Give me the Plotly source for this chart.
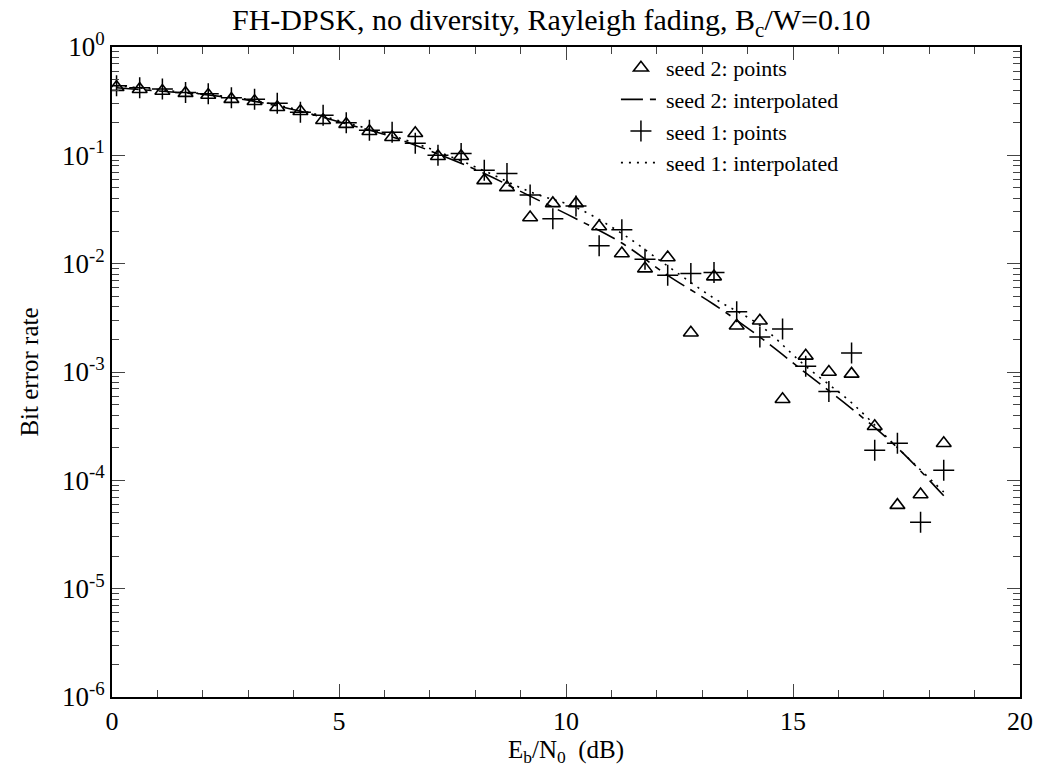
import plotly.graph_objects as go

# Eb/N0 (dB) of the simulated points
ebn0_points = [0.10, 0.61, 1.11, 1.62, 2.12, 2.63, 3.14, 3.64, 4.15, 4.65, 5.16, 5.67, 6.17,
               6.68, 7.18, 7.69, 8.20, 8.70, 9.21, 9.71, 10.22, 10.73, 11.23, 11.74, 12.24,
               12.75, 13.26, 13.76, 14.27, 14.77, 15.28, 15.79, 16.29, 16.80, 17.30, 17.81,
               18.32]

# seed 2 simulated points (triangles)
seed2_points = [0.426, 0.408, 0.392, 0.375, 0.36, 0.33, 0.316, 0.278, 0.255, 0.211, 0.194,
                0.167, 0.147, 0.16, 0.098, 0.098, 0.0587, 0.0506, 0.0267, 0.036, 0.036,
                0.022, 0.0124, 0.009, 0.0114, 0.0023, 0.0076, 0.00267, 0.00297, 0.00056,
                0.00141, 0.001, 0.00096, 0.000316, 5.9e-5, 7.4e-5, 2.2e-4]

# seed 1 simulated points (pluses)
seed1_points = [0.44, 0.42, 0.41, 0.38, 0.37, 0.34, 0.33, 0.303, 0.25, 0.234, 0.2, 0.17,
                0.163, 0.129, 0.1, 0.104, 0.073, 0.068, 0.043, 0.026, 0.034, 0.0146,
                0.0206, 0.011, 0.0078, 0.0081, 0.0083, 0.0036, 0.0021, 0.0025, 0.00113,
                0.00066, 0.0015, 0.00019, 0.00022, 4.1e-5, 1.24e-4]

# interpolated curves
ebn0_interp = [0.10, 1.11, 2.12, 3.14, 4.15, 5.16, 6.17, 7.18, 8.20, 9.21, 10.22, 11.23,
               12.24, 13.26, 14.27, 15.28, 16.29, 17.30, 18.32]
seed2_interp = [0.42, 0.39, 0.36, 0.315, 0.255, 0.195, 0.148, 0.103, 0.068, 0.042, 0.026,
                0.0155, 0.0078, 0.0042, 0.0021, 0.00098, 0.00046, 0.0002, 7.2e-5]
seed1_interp = [0.44, 0.40, 0.365, 0.32, 0.26, 0.2, 0.152, 0.108, 0.072, 0.046, 0.033,
                0.019, 0.0095, 0.0048, 0.0027, 0.00113, 0.00052, 0.0002, 7.8e-5]

y_tickvals = [1, 1e-1, 1e-2, 1e-3, 1e-4, 1e-5, 1e-6]
y_ticktext = ["10<sup>0</sup>", "10<sup>-1</sup>", "10<sup>-2</sup>", "10<sup>-3</sup>",
              "10<sup>-4</sup>", "10<sup>-5</sup>", "10<sup>-6</sup>"]
x_tickvals = [0, 5, 10, 15, 20]

FONT = "Liberation Serif, Times New Roman, serif"

fig = go.Figure()
fig.add_trace(go.Scatter(
    x=ebn0_points, y=seed2_points, mode="markers", name="seed 2: points",
    marker=dict(symbol="triangle-up-open", size=13, color="black", line=dict(width=1.6, color="black"))))
fig.add_trace(go.Scatter(
    x=ebn0_interp, y=seed2_interp, mode="lines", name="seed 2: interpolated",
    line=dict(color="black", width=1.6, dash="22px,7px,6px,7px", shape="spline")))
fig.add_trace(go.Scatter(
    x=ebn0_points, y=seed1_points, mode="markers", name="seed 1: points",
    marker=dict(symbol="cross-thin-open", size=15, color="black", line=dict(width=1.5, color="black"))))
fig.add_trace(go.Scatter(
    x=ebn0_interp, y=seed1_interp, mode="lines", name="seed 1: interpolated",
    line=dict(color="black", width=1.6, dash="2px,6px", shape="spline")))

fig.update_layout(
    width=1046, height=771,
    margin=dict(l=112, r=26, t=47, b=74),
    paper_bgcolor="white", plot_bgcolor="white",
    font=dict(family=FONT, color="black", size=23),
    title=dict(text="FH-DPSK, no diversity, Rayleigh fading, B<sub>c</sub>/W=0.10",
               x=0.527, xanchor="center", y=0.988, yanchor="top", pad=dict(t=0, b=0),
               font=dict(family=FONT, size=30, color="black")),
    legend=dict(x=0.555, y=1.0, xanchor="left", yanchor="top",
                bgcolor="rgba(0,0,0,0)", font=dict(family=FONT, size=22),
                tracegroupgap=0, itemwidth=40),
    showlegend=True,
)
fig.update_xaxes(
    range=[0, 20], tickvals=x_tickvals, ticks="inside", ticklen=13, tickwidth=1.3,
    showline=True, linecolor="black", linewidth=1.6, mirror="ticks", showgrid=False,
    zeroline=False, tickfont=dict(family=FONT, size=26),
    minor=dict(dtick=1, ticks="inside", ticklen=7, tickwidth=1.2, showgrid=False),
    title=dict(text="E<sub>b</sub>/N<sub>0</sub>  (dB)", font=dict(family=FONT, size=25), standoff=4),
)
fig.update_yaxes(
    type="log", range=[-6, 0], tickvals=y_tickvals, ticktext=y_ticktext,
    ticks="inside", ticklen=13, tickwidth=1.3,
    showline=True, linecolor="black", linewidth=1.6, mirror="ticks", showgrid=False,
    zeroline=False, tickfont=dict(family=FONT, size=27),
    minor=dict(dtick="D1", ticks="inside", ticklen=7, tickwidth=1.2, showgrid=False),
    title=dict(text="Bit error rate", font=dict(family=FONT, size=25), standoff=16),
)

fig.write_html("out.html")
